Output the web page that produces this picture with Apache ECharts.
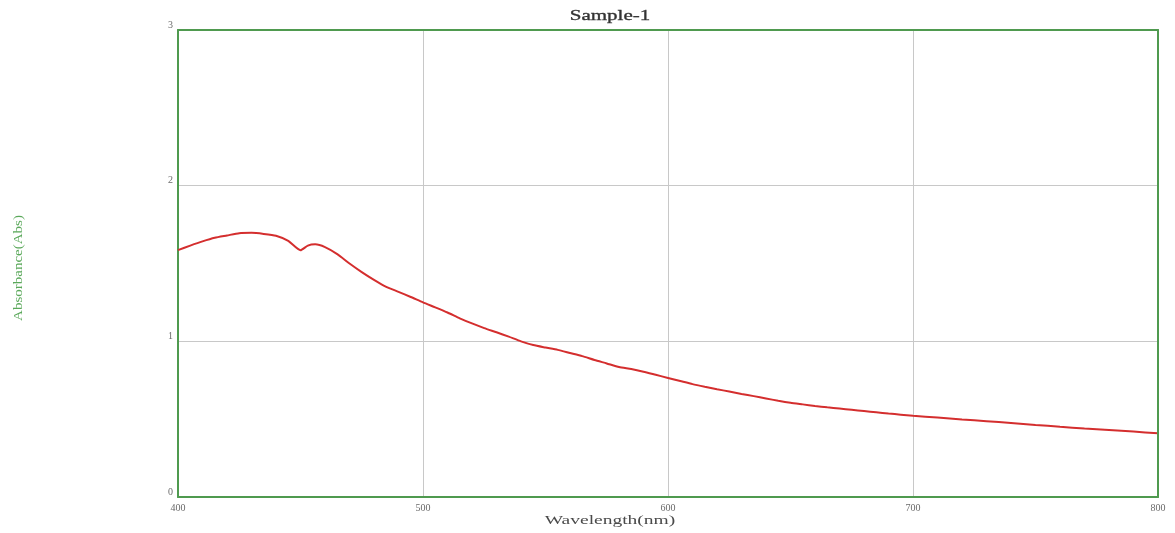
<!DOCTYPE html>
<html><head><meta charset="utf-8">
<script src="https://cdn.jsdelivr.net/npm/echarts@6/dist/echarts.min.js"></script>
<style>html,body{margin:0;padding:0;background:#fff}#c{width:1175px;height:533px}</style>
</head><body><div id="c"></div>
<script>
const wavelengths = [400,405,410,415,420,425,430,435,440,445,450,453,456,460,465,470,475,480,485,490,495,500,505,510,515,520,525,530,535,540,545,550,555,560,565,570,575,580,585,590,595,600,605,610,615,620,625,630,635,640,645,650,655,660,665,670,675,680,685,690,695,700,710,720,730,740,750,760,770,780,790,800];
const absorbance = [1.586,1.615,1.642,1.665,1.680,1.695,1.697,1.690,1.678,1.645,1.585,1.615,1.623,1.605,1.560,1.500,1.445,1.395,1.350,1.318,1.285,1.250,1.218,1.185,1.148,1.115,1.085,1.058,1.030,1.000,0.976,0.960,0.945,0.925,0.905,0.880,0.858,0.835,0.822,0.805,0.785,0.765,0.745,0.725,0.708,0.692,0.678,0.662,0.648,0.633,0.618,0.605,0.595,0.585,0.576,0.568,0.560,0.552,0.544,0.536,0.529,0.522,0.510,0.498,0.487,0.476,0.463,0.451,0.440,0.430,0.420,0.409];
const titleText = "Sample-1";
const xName = "Wavelength(nm)";
const yName = "Absorbance(Abs)";
const xTicks = [400,500,600,700,800];
const yTicks = [0,1,2,3];

const chart = echarts.init(document.getElementById('c'));
const green = '#4f9a4f';
const serif = 'Liberation Serif, DejaVu Serif, serif';
const lblFont = {color:'#6a6a6a', fontFamily:serif, fontSize:10};
const hiddenAxis = {z:5, axisLine:{show:true, onZero:false, lineStyle:{color:green, width:2}}, axisTick:{show:false}, axisLabel:{show:false}, splitLine:{show:false}};
chart.setOption({
  animation:false,
  graphic:[
    {type:'text', x:610, y:16, scaleX:1.5, z:10, style:{text:titleText, fill:'#333', font:'14px '+serif, textAlign:'center', textVerticalAlign:'middle', stroke:'#333', lineWidth:0.3}},
    {type:'text', x:610, y:521, scaleX:1.5, z:10, style:{text:xName, fill:'#4a4a4a', font:'13px '+serif, textAlign:'center', textVerticalAlign:'middle'}},
    {type:'text', x:19, y:268, rotation:Math.PI/2, scaleX:1.25, z:10, style:{text:yName, fill:'#5aa85a', font:'12px '+serif, textAlign:'center', textVerticalAlign:'middle'}}
  ],
  grid:{left:178, right:17, top:30, bottom:36},
  xAxis:[{type:'value', min:xTicks[0], max:xTicks[xTicks.length-1], interval:100,
    axisLine:{show:true, onZero:false, lineStyle:{color:green, width:2}},
    axisTick:{show:false},
    axisLabel:Object.assign({margin:6}, lblFont),
    splitLine:{show:true, lineStyle:{color:'#c8c8c8', width:1}}},
    Object.assign({type:'value', position:'top', min:xTicks[0], max:xTicks[xTicks.length-1], interval:100}, hiddenAxis)],
  yAxis:[{type:'value', min:yTicks[0], max:yTicks[yTicks.length-1], interval:1,
    axisLine:{show:true, onZero:false, lineStyle:{color:green, width:2}},
    axisTick:{show:false},
    axisLabel:Object.assign({margin:5, verticalAlign:'bottom'}, lblFont),
    splitLine:{show:true, lineStyle:{color:'#c8c8c8', width:1}}},
    Object.assign({type:'value', position:'right', min:yTicks[0], max:yTicks[yTicks.length-1], interval:1}, hiddenAxis)],
  series:[{type:'line', data:wavelengths.map((w,i)=>[w,absorbance[i]]), showSymbol:false,
    lineStyle:{color:'#d42e2e', width:2}, smooth:0.2}]
});
</script></body></html>
